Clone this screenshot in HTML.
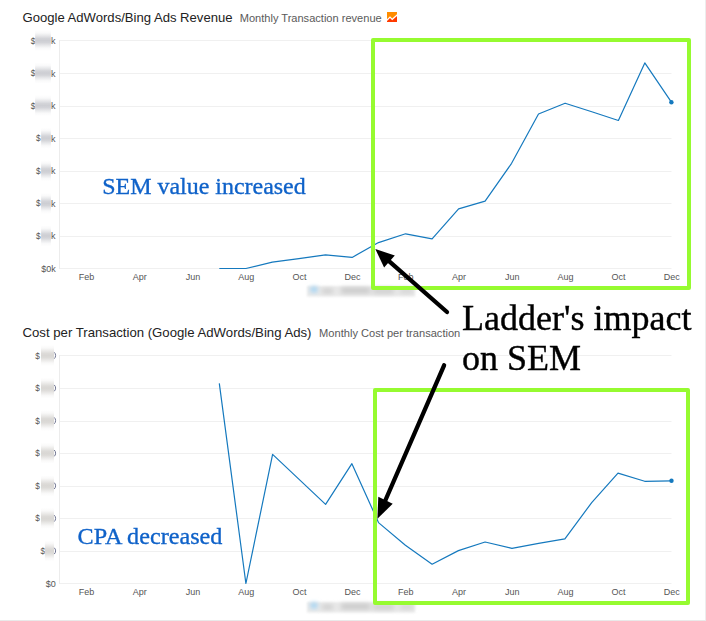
<!DOCTYPE html>
<html><head><meta charset="utf-8"><title>SEM</title>
<style>
html,body{margin:0;padding:0;background:#fff;}
body{width:706px;height:621px;overflow:hidden;}
svg{display:block;}
text{font-family:"Liberation Sans",sans-serif;}
.serif{font-family:"Liberation Serif",serif;}
</style></head><body>
<svg width="706" height="621" viewBox="0 0 706 621">
<defs>
<linearGradient id="vb" x1="0" y1="0" x2="0" y2="1">
<stop offset="0" stop-color="#cdced3" stop-opacity="0"/>
<stop offset="0.14" stop-color="#cdced3" stop-opacity="0.12"/>
<stop offset="0.28" stop-color="#cdced3" stop-opacity="0.5"/>
<stop offset="0.4" stop-color="#cdced3" stop-opacity="0.88"/>
<stop offset="0.5" stop-color="#cdced3" stop-opacity="1"/>
<stop offset="0.6" stop-color="#cdced3" stop-opacity="0.88"/>
<stop offset="0.72" stop-color="#cdced3" stop-opacity="0.5"/>
<stop offset="0.86" stop-color="#cdced3" stop-opacity="0.12"/>
<stop offset="1" stop-color="#cdced3" stop-opacity="0"/>
</linearGradient>
<linearGradient id="vb2" x1="0" y1="0" x2="0" y2="1">
<stop offset="0" stop-color="#d9d7d4" stop-opacity="0"/>
<stop offset="0.14" stop-color="#d9d7d4" stop-opacity="0.15"/>
<stop offset="0.28" stop-color="#d9d7d4" stop-opacity="0.55"/>
<stop offset="0.4" stop-color="#d9d7d4" stop-opacity="0.9"/>
<stop offset="0.5" stop-color="#d9d7d4" stop-opacity="1"/>
<stop offset="0.6" stop-color="#d9d7d4" stop-opacity="0.9"/>
<stop offset="0.72" stop-color="#d9d7d4" stop-opacity="0.55"/>
<stop offset="0.86" stop-color="#d9d7d4" stop-opacity="0.15"/>
<stop offset="1" stop-color="#d9d7d4" stop-opacity="0"/>
</linearGradient>
<filter id="bl1" x="-20%" y="-80%" width="140%" height="260%"><feGaussianBlur stdDeviation="1.3"/></filter>
<filter id="bl3" x="-60%" y="-80%" width="220%" height="260%"><feGaussianBlur stdDeviation="2.1"/></filter>
<filter id="bl2" x="-20%" y="-120%" width="140%" height="340%"><feGaussianBlur stdDeviation="2.8 2.2"/></filter>
</defs>
<rect width="706" height="621" fill="#fff"/>

<rect x="60" y="40.0" width="611.5" height="1" fill="#f0f0f0"/>
<rect x="60" y="73.0" width="611.5" height="1" fill="#f0f0f0"/>
<rect x="60" y="106.0" width="611.5" height="1" fill="#f0f0f0"/>
<rect x="60" y="138.0" width="611.5" height="1" fill="#f0f0f0"/>
<rect x="60" y="171.0" width="611.5" height="1" fill="#f0f0f0"/>
<rect x="60" y="203.0" width="611.5" height="1" fill="#f0f0f0"/>
<rect x="60" y="236.0" width="611.5" height="1" fill="#f0f0f0"/>
<rect x="60" y="268.0" width="611.5" height="1" fill="#f0f0f0"/>
<rect x="59" y="40.0" width="1" height="229.0" fill="#ececec"/>
<text x="86.6" y="280.0" font-size="9" fill="#555" text-anchor="middle">Feb</text>
<text x="139.8" y="280.0" font-size="9" fill="#555" text-anchor="middle">Apr</text>
<text x="193.0" y="280.0" font-size="9" fill="#555" text-anchor="middle">Jun</text>
<text x="246.2" y="280.0" font-size="9" fill="#555" text-anchor="middle">Aug</text>
<text x="299.4" y="280.0" font-size="9" fill="#555" text-anchor="middle">Oct</text>
<text x="352.6" y="280.0" font-size="9" fill="#555" text-anchor="middle">Dec</text>
<text x="405.8" y="280.0" font-size="9" fill="#555" text-anchor="middle">Feb</text>
<text x="459.0" y="280.0" font-size="9" fill="#555" text-anchor="middle">Apr</text>
<text x="512.2" y="280.0" font-size="9" fill="#555" text-anchor="middle">Jun</text>
<text x="565.4" y="280.0" font-size="9" fill="#555" text-anchor="middle">Aug</text>
<text x="618.6" y="280.0" font-size="9" fill="#555" text-anchor="middle">Oct</text>
<text x="671.8" y="280.0" font-size="9" fill="#555" text-anchor="middle">Dec</text>
<text x="22.5" y="21.5" font-size="13" fill="#222" textLength="210" lengthAdjust="spacingAndGlyphs">Google AdWords/Bing Ads Revenue</text>
<text x="239.7" y="21.7" font-size="11" fill="#5a5a5a" textLength="142" lengthAdjust="spacingAndGlyphs">Monthly Transaction revenue</text>
<g filter="url(#bl1)"><rect x="307" y="286.0" width="108" height="10.5" fill="#e9e9e9"/></g>
<g filter="url(#bl2)"><rect x="322" y="288.5" width="11" height="5" fill="#d0d0d0"/><rect x="341" y="287.5" width="29" height="6" fill="#cccccc"/><rect x="373" y="288.0" width="21" height="6" fill="#d2d2d2"/><rect x="400" y="288.5" width="13" height="5" fill="#d6d6d6"/></g>
<g filter="url(#bl3)"><rect x="310.5" y="286.5" width="7" height="6" fill="#a9d6f4"/></g>
<polyline points="219.3,268.5 245.9,268.5 272.3,262.2 298.9,258.6 325.5,254.9 352.1,257.4 378.5,242.6 405.6,233.8 432.1,238.8 458.6,208.9 485.1,201.2 511.6,163.3 538.5,114 565.1,103.2 591.8,111.8 618.4,120.5 644.8,62.9 671.4,102.2" fill="none" stroke="#1579be" stroke-width="1.2" stroke-linejoin="round"/>
<circle cx="671.4" cy="102.2" r="2.2" fill="#1579be"/>
<text x="30.8" y="43.5" font-size="8.2" fill="#555">$</text>
<text x="51" y="44.0" font-size="9" fill="#555">k</text>
<rect x="35.1" y="30.0" width="15.8" height="21" fill="url(#vb)"/>
<text x="30.8" y="76.1" font-size="8.2" fill="#555">$</text>
<text x="51" y="76.6" font-size="9" fill="#555">k</text>
<rect x="35.1" y="62.6" width="15.8" height="21" fill="url(#vb)"/>
<text x="30.8" y="108.6" font-size="8.2" fill="#555">$</text>
<text x="51" y="109.1" font-size="9" fill="#555">k</text>
<rect x="35.1" y="95.1" width="15.8" height="21" fill="url(#vb)"/>
<text x="36" y="141.2" font-size="8.2" fill="#555">$</text>
<text x="51" y="141.7" font-size="9" fill="#555">k</text>
<rect x="41.1" y="127.7" width="9.8" height="21" fill="url(#vb)"/>
<text x="36" y="173.8" font-size="8.2" fill="#555">$</text>
<text x="51" y="174.3" font-size="9" fill="#555">k</text>
<rect x="41.1" y="160.3" width="9.8" height="21" fill="url(#vb)"/>
<text x="36" y="206.4" font-size="8.2" fill="#555">$</text>
<text x="51" y="206.9" font-size="9" fill="#555">k</text>
<rect x="41.1" y="192.9" width="9.8" height="21" fill="url(#vb)"/>
<text x="36" y="238.9" font-size="8.2" fill="#555">$</text>
<text x="51" y="239.4" font-size="9" fill="#555">k</text>
<rect x="41.1" y="225.4" width="9.8" height="21" fill="url(#vb)"/>
<text x="55.7" y="272.1" font-size="9" fill="#555" text-anchor="end">$0k</text>
<g>
<path d="M387 12 H397 V14.2 L392.2 18.6 L390 16.2 L387 19.3 Z" fill="#ff8c00"/>
<path d="M387 21 L390 17.9 L392.2 20.3 L397 15.9 V22 H387 Z" fill="#ff3a00"/>
</g>
<rect x="60" y="355.0" width="611.5" height="1" fill="#f0f0f0"/>
<rect x="60" y="388.0" width="611.5" height="1" fill="#f0f0f0"/>
<rect x="60" y="421.0" width="611.5" height="1" fill="#f0f0f0"/>
<rect x="60" y="453.0" width="611.5" height="1" fill="#f0f0f0"/>
<rect x="60" y="486.0" width="611.5" height="1" fill="#f0f0f0"/>
<rect x="60" y="518.0" width="611.5" height="1" fill="#f0f0f0"/>
<rect x="60" y="551.0" width="611.5" height="1" fill="#f0f0f0"/>
<rect x="60" y="583.0" width="611.5" height="1" fill="#f0f0f0"/>
<rect x="59" y="355.0" width="1" height="229.0" fill="#ececec"/>
<text x="86.6" y="595.0" font-size="9" fill="#555" text-anchor="middle">Feb</text>
<text x="139.8" y="595.0" font-size="9" fill="#555" text-anchor="middle">Apr</text>
<text x="193.0" y="595.0" font-size="9" fill="#555" text-anchor="middle">Jun</text>
<text x="246.2" y="595.0" font-size="9" fill="#555" text-anchor="middle">Aug</text>
<text x="299.4" y="595.0" font-size="9" fill="#555" text-anchor="middle">Oct</text>
<text x="352.6" y="595.0" font-size="9" fill="#555" text-anchor="middle">Dec</text>
<text x="405.8" y="595.0" font-size="9" fill="#555" text-anchor="middle">Feb</text>
<text x="459.0" y="595.0" font-size="9" fill="#555" text-anchor="middle">Apr</text>
<text x="512.2" y="595.0" font-size="9" fill="#555" text-anchor="middle">Jun</text>
<text x="565.4" y="595.0" font-size="9" fill="#555" text-anchor="middle">Aug</text>
<text x="618.6" y="595.0" font-size="9" fill="#555" text-anchor="middle">Oct</text>
<text x="671.8" y="595.0" font-size="9" fill="#555" text-anchor="middle">Dec</text>
<text x="22.5" y="336.5" font-size="13" fill="#222" textLength="289" lengthAdjust="spacingAndGlyphs">Cost per Transaction (Google AdWords/Bing Ads)</text>
<text x="319.1" y="336.7" font-size="11" fill="#5a5a5a" textLength="141.2" lengthAdjust="spacingAndGlyphs">Monthly Cost per transaction</text>
<g filter="url(#bl1)"><rect x="307" y="602.0" width="108" height="10.5" fill="#e9e9e9"/></g>
<g filter="url(#bl2)"><rect x="322" y="604.5" width="11" height="5" fill="#d0d0d0"/><rect x="341" y="603.5" width="29" height="6" fill="#cccccc"/><rect x="373" y="604.0" width="21" height="6" fill="#d2d2d2"/><rect x="400" y="604.5" width="13" height="5" fill="#d6d6d6"/></g>
<g filter="url(#bl3)"><rect x="310.5" y="602.5" width="7" height="6" fill="#a9d6f4"/></g>
<polyline points="219.3,383.3 245.9,583.5 272.6,454.4 299.1,479.4 325.6,504.4 351.9,463.7 378.5,522.6 405.4,545.2 432.1,564.2 458.4,550.6 485.1,542 511.9,548.3 538.6,543.4 564.9,538.8 591.7,502.6 618,473.1 644.7,481.3 671.5,480.8" fill="none" stroke="#1579be" stroke-width="1.2" stroke-linejoin="round"/>
<circle cx="671.5" cy="480.8" r="2.2" fill="#1579be"/>
<text x="35.2" y="358.5" font-size="8.2" fill="#555">$</text>
<path d="M54.2 352.3 Q55.6 353.5 55.6 355.5 Q55.6 357.5 54.2 358.7" fill="none" stroke="#6f7490" stroke-width="1"/>
<rect x="41" y="345.0" width="13.0" height="21" fill="url(#vb2)"/>
<text x="35.2" y="391.1" font-size="8.2" fill="#555">$</text>
<path d="M54.2 384.9 Q55.6 386.1 55.6 388.1 Q55.6 390.1 54.2 391.3" fill="none" stroke="#6f7490" stroke-width="1"/>
<rect x="41" y="377.6" width="13.0" height="21" fill="url(#vb2)"/>
<text x="35.2" y="423.6" font-size="8.2" fill="#555">$</text>
<path d="M54.2 417.4 Q55.6 418.6 55.6 420.6 Q55.6 422.6 54.2 423.8" fill="none" stroke="#6f7490" stroke-width="1"/>
<rect x="41" y="410.1" width="13.0" height="21" fill="url(#vb2)"/>
<text x="35.2" y="456.2" font-size="8.2" fill="#555">$</text>
<path d="M54.2 450.0 Q55.6 451.2 55.6 453.2 Q55.6 455.2 54.2 456.4" fill="none" stroke="#6f7490" stroke-width="1"/>
<rect x="41" y="442.7" width="13.0" height="21" fill="url(#vb2)"/>
<text x="35.2" y="488.8" font-size="8.2" fill="#555">$</text>
<path d="M54.2 482.6 Q55.6 483.8 55.6 485.8 Q55.6 487.8 54.2 489.0" fill="none" stroke="#6f7490" stroke-width="1"/>
<rect x="41" y="475.3" width="13.0" height="21" fill="url(#vb2)"/>
<text x="35.2" y="521.4" font-size="8.2" fill="#555">$</text>
<path d="M54.2 515.2 Q55.6 516.4 55.6 518.4 Q55.6 520.4 54.2 521.6" fill="none" stroke="#6f7490" stroke-width="1"/>
<rect x="41" y="507.9" width="13.0" height="21" fill="url(#vb2)"/>
<text x="40.4" y="553.9" font-size="8.2" fill="#555">$</text>
<path d="M54.2 547.7 Q55.6 548.9 55.6 550.9 Q55.6 552.9 54.2 554.1" fill="none" stroke="#6f7490" stroke-width="1"/>
<rect x="44.9" y="540.4" width="9.1" height="21" fill="url(#vb2)"/>
<text x="55.7" y="587.1" font-size="9" fill="#555" text-anchor="end">$0</text>
<rect x="373" y="40" width="316" height="248" fill="none" stroke="#96fb30" stroke-width="4" stroke-linejoin="round"/>
<rect x="375" y="390" width="313" height="213" fill="none" stroke="#96fb30" stroke-width="4" stroke-linejoin="round"/>
<text class="serif" x="102.2" y="194.2" font-size="24" fill="#0f62c9" stroke="#0f62c9" stroke-width="0.35" opacity="0.999" textLength="203.5" lengthAdjust="spacingAndGlyphs">SEM value increased</text>
<text class="serif" x="77.6" y="544.4" font-size="24" fill="#0f62c9" stroke="#0f62c9" stroke-width="0.35" opacity="0.999" textLength="144.8" lengthAdjust="spacingAndGlyphs">CPA decreased</text>
<text class="serif" x="462" y="330" font-size="36" fill="#000" stroke="#000" stroke-width="0.4" opacity="0.999" textLength="229.5" lengthAdjust="spacingAndGlyphs">Ladder's impact</text>
<text class="serif" x="462" y="370.3" font-size="36" fill="#000" stroke="#000" stroke-width="0.4" opacity="0.999">on SEM</text>
<line x1="447" y1="312" x2="387" y2="259.3" stroke="#000" stroke-width="4.3" stroke-linecap="round"/>
<polygon points="375.3,249 394.8,255.5 384.1,267.4" fill="#000"/>
<line x1="444.1" y1="365.3" x2="384" y2="503.5" stroke="#000" stroke-width="4.3" stroke-linecap="round"/>
<polygon points="377.4,518.8 378.3,496.8 392.7,503.8" fill="#000"/>
<rect x="705" y="0" width="1" height="621" fill="#ededed"/>
<rect x="0" y="620" width="706" height="1" fill="#e9e9e9"/>
</svg></body></html>
